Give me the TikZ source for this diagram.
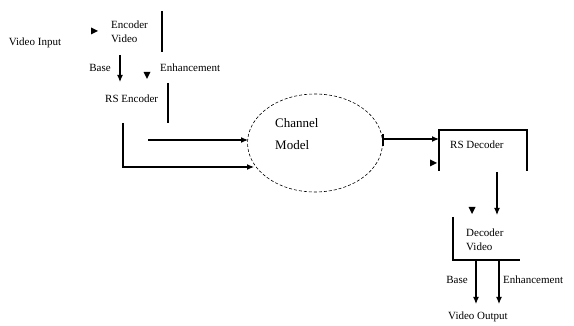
\documentclass[tikz,border=0pt]{standalone}
\usepackage{fontspec}
\setmainfont{Liberation Serif}
\usetikzlibrary{arrows.meta,shapes.geometric}
\begin{document}
\begin{tikzpicture}[x=1pt,y=-1pt,
  lbl/.style={inner sep=0pt, font=\fontsize{11}{14}\selectfont, align=left},
  big/.style={inner sep=0pt, font=\fontsize{13}{22}\selectfont, align=left},
  ln/.style={line width=1.1pt},
  arr/.style={ln,-{Latex[length=7pt,width=6pt]}},
  tiptri/.style={fill=black}]
\useasboundingbox[fill=white] (0,0) rectangle (574,326);
% texts
\node[lbl] (vin) at (35,43) {Video Input};
\node[lbl, anchor=west] (enc) at (111,32) {Encoder\\Video};
\node[lbl] (base1) at (100,68) {Base};
\node[lbl, anchor=west] (enh1) at (160,68) {Enhancement};
\node[lbl, anchor=west] (rsenc) at (105,99) {RS Encoder};
\node[draw, densely dashed, line width=0.6pt, ellipse, minimum width=135pt, minimum height=98pt, inner sep=0pt] (chan) at (315,143) {};
\node[big, anchor=west] (chtxt) at (275,134) {Channel\\Model};
\node[lbl, anchor=west] (rsdec) at (450,145) {RS Decoder};
\node[lbl, anchor=west] (dec) at (466,240) {Decoder\\Video};
\node[lbl] (base2) at (457,280) {Base};
\node[lbl, anchor=west] (enh2) at (503,280) {Enhancement};
\node[lbl] (vout) at (478,317) {Video Output};
% coordinates
\coordinate (a1) at (162,11); \coordinate (a2) at (162,52);
\coordinate (b1) at (120,55); \coordinate (b2) at (120,82);
\coordinate (c1) at (168,83); \coordinate (c2) at (168,123);
\coordinate (d1) at (123,123); \coordinate (d2) at (123,167); \coordinate (d3) at (254,167);
\coordinate (e1) at (148,140); \coordinate (e2) at (248,140);
\coordinate (f1) at (383,139); \coordinate (f2) at (439,139);
\coordinate (g1) at (439,171); \coordinate (g2) at (439,130); \coordinate (g3) at (527,130); \coordinate (g4) at (527,171);
\coordinate (h1) at (497,172); \coordinate (h2) at (497,215);
\coordinate (k1) at (453,217); \coordinate (k2) at (453,260); \coordinate (k3) at (520,260);
\coordinate (m1) at (476,260); \coordinate (m2) at (476,304);
\coordinate (n1) at (499,260); \coordinate (n2) at (499,304);
% lines
\draw[ln] (a1) -- (a2);
\draw[arr] (b1) -- (b2);
\draw[ln] (c1) -- (c2);
\draw[arr] (d1) -- (d2) -- (d3);
\draw[arr] (e1) -- (e2);
\draw[ln] (383,134) -- (383,146);
\draw[arr] (f1) -- (f2);
\draw[ln] (g1) -- (g2) -- (g3) -- (g4);
\draw[arr] (h1) -- (h2);
\draw[ln] (k1) -- (k2) -- (k3);
\draw[arr] (m1) -- (m2);
\draw[arr] (n1) -- (n2);
% loose arrowheads
\fill[tiptri] (91,27.5) -- (98,31) -- (91,34.5) -- cycle;
\fill[tiptri] (143.5,72) -- (147,79) -- (150.5,72) -- cycle;
\fill[tiptri] (430,159.5) -- (437,163) -- (430,166.5) -- cycle;
\fill[tiptri] (468.5,207) -- (472,214) -- (475.5,207) -- cycle;
\end{tikzpicture}
\end{document}
